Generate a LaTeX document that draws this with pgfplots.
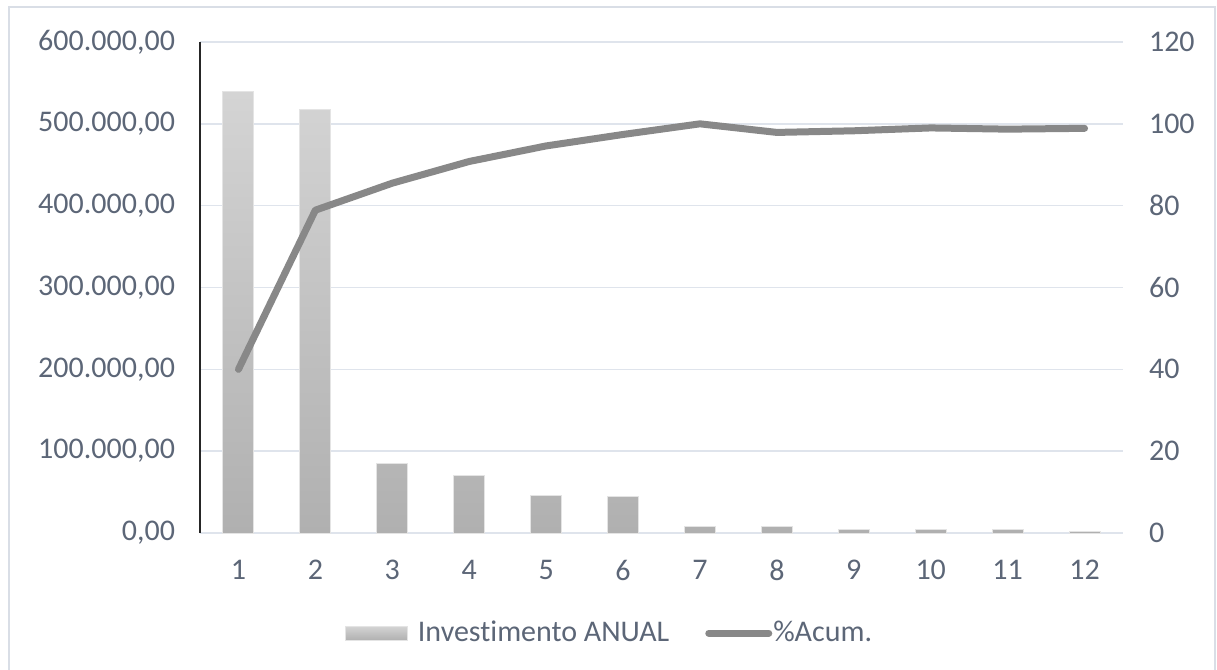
\documentclass[border=0pt]{standalone}
\usepackage{pgfplots}
\pgfplotsset{compat=1.18}
\usepackage{fontspec}
\setmainfont{Carlito}[Ligatures=CommonOff]

\definecolor{textc}{RGB}{92,102,119}
\definecolor{gridc}{RGB}{223,228,236}
\definecolor{framec}{RGB}{217,222,230}
\definecolor{barTop}{RGB}{212,212,212}
\definecolor{barBot}{RGB}{176,176,176}
\definecolor{barEdge}{RGB}{228,228,228}
\definecolor{lineC}{RGB}{136,136,136}

% annual investment per item
\pgfplotstableread{
item  valor
1     539000
2     518000
3     84700
4     70000
5     46000
6     44400
7     8500
8     8500
9     4500
10    4500
11    4500
12    2400
}\investimento

% cumulative percentage
\pgfplotstableread{
item  acum
1     40.0
2     78.9
3     85.5
4     90.8
5     94.6
6     97.4
7     100.0
8     97.9
9     98.3
10    99.0
11    98.7
12    98.9
}\acumulado

\pgfplotsset{
  pareto/.style={
    scale only axis,
    width=461.5pt, height=245.5pt,
    at={(100pt,68.5pt)}, anchor=south west,
    xmin=0.5, xmax=12.5,
    major tick length=0pt,
    ticklabel style={font=\fontsize{15}{18}\selectfont, text=textc},
    /pgf/number format/assume math mode=true,
  }
}

\begin{document}
\begin{tikzpicture}
\useasboundingbox (0pt,0pt) rectangle (608.5pt,335pt);
\draw[framec, line width=1pt] (4.5pt,-5pt) -- (4.5pt,331.5pt) -- (607.5pt,331.5pt) -- (607.5pt,-5pt);

\begin{axis}[pareto,
  axis y line*=left, axis x line*=bottom,
  ymin=0, ymax=600000,
  ytick={0,100000,...,600000},
  yticklabels={{0,00},{100.000,00},{200.000,00},{300.000,00},{400.000,00},{500.000,00},{600.000,00}},
  scaled y ticks=false,
  ymajorgrids, grid style={gridc, line width=0.8pt},
  xtick={1,...,12},
  x axis line style={gridc, line width=0.8pt, -},
  y axis line style={black!85, line width=0.9pt, -},
  xticklabel style={yshift=-10pt},
  yticklabel style={xshift=-9pt},
]
\addplot[ybar, bar width=15.5pt, draw=barEdge, line width=0.5pt,
  top color=barTop, bottom color=barBot] table[x=item, y=valor] {\investimento};
\end{axis}

\begin{axis}[pareto,
  axis y line*=right, axis x line=none,
  ymin=0, ymax=120,
  ytick={0,20,...,120},
  y axis line style={draw=none},
  yticklabel style={xshift=9.5pt},
  legend columns=2,
  legend style={at={(0.445,-0.204)}, anchor=center, draw=none, fill=none,
    font=\fontsize{15}{18}\selectfont, text=textc,
    /tikz/every even column/.append style={column sep=16pt}},
  legend cell align=left,
]
\addlegendimage{legend image code/.code={
  \draw[barEdge, line width=0.5pt, top color=barTop, bottom color=barBot] (0pt,-3.5pt) rectangle (31pt,3.5pt);
  \path[draw=none] (0pt,0pt) -- (34pt,0pt);}}
\addlegendentry{Investimento ANUAL}
\addplot[lineC, line width=3.5pt, line cap=round, line join=round,
  legend image code/.code={\draw[lineC, line width=3.5pt, line cap=round] (0pt,0pt) -- (30pt,0pt);}]
  table[x=item, y=acum] {\acumulado};
\addlegendentry{\hspace*{-1.5pt}\%Acum.}
\end{axis}
\end{tikzpicture}
\end{document}
